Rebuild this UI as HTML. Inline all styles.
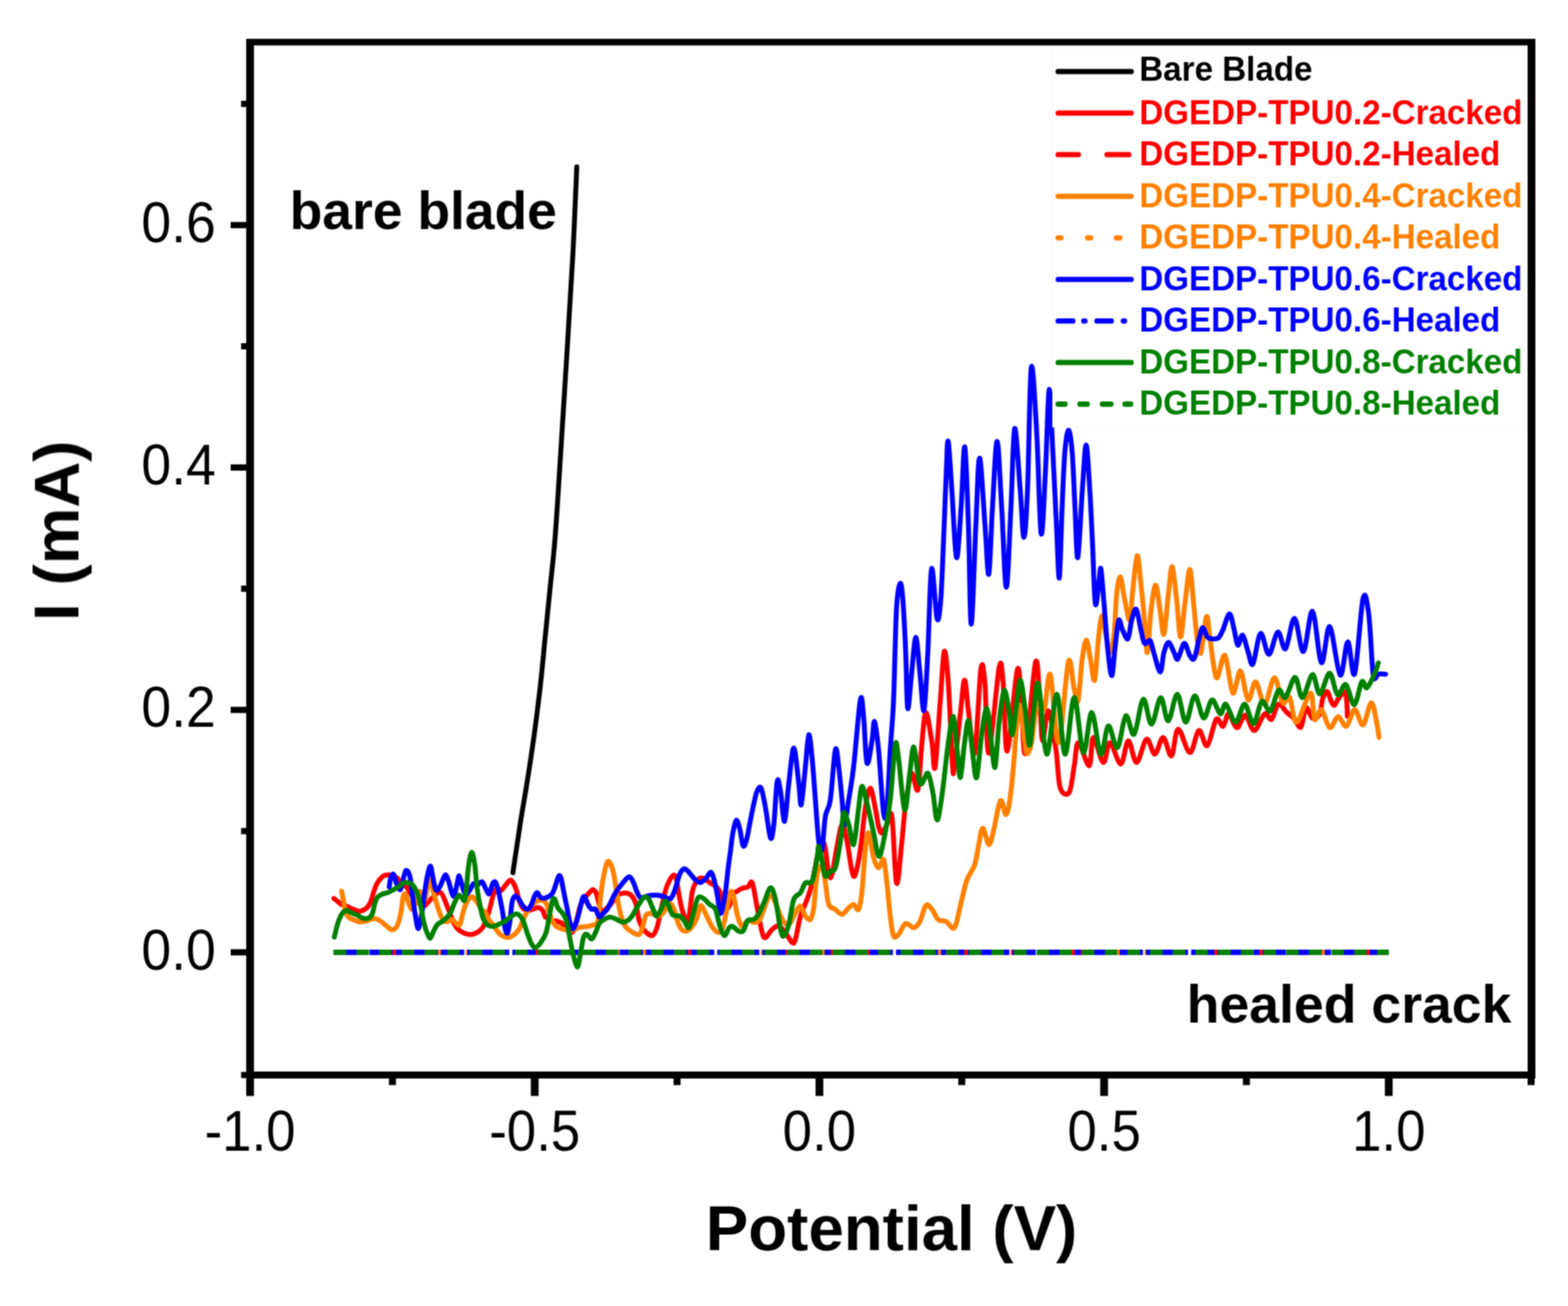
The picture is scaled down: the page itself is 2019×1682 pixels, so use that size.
<!DOCTYPE html><html><head><meta charset="utf-8"><title>I-V curves</title><style>
html,body{margin:0;padding:0;background:#fff;overflow:hidden;}
svg{display:block;}
text{font-family:"Liberation Sans",Arial,Helvetica,sans-serif;}
</style></head><body>
<svg width="2019" height="1682" viewBox="0 0 2019 1682">
<defs><filter id="soft" x="0" y="0" width="2019" height="1682" filterUnits="userSpaceOnUse" color-interpolation-filters="sRGB"><feConvolveMatrix order="3" kernelMatrix="1 2 1 2 4 2 1 2 1" divisor="16" edgeMode="duplicate"/></filter></defs>
<rect width="2019" height="1682" fill="#fff"/>
<g filter="url(#soft)">
<g fill="none" stroke-linejoin="round" stroke-linecap="round">
<path d="M742.7 215.0 C741.9 233.9 739.7 288.1 737.6 328.4 C735.5 368.7 732.7 411.5 729.9 456.8 C727.1 502.1 723.4 560.4 720.9 600.0 C718.4 639.6 716.7 668.2 714.6 694.5 C712.5 720.8 710.4 736.5 708.3 757.5 C706.2 778.5 704.1 799.5 702.0 820.5 C699.9 841.5 698.1 862.6 695.7 883.6 C693.3 904.6 690.7 925.6 687.8 946.6 C684.9 967.6 681.3 991.2 678.4 1009.6 C675.5 1028.0 673.5 1037.7 670.5 1056.8 C667.5 1075.9 662.1 1112.8 660.4 1124.0" stroke="#000" stroke-width="6.3"/>
<path d="M429.9 1157.1 C430.7 1157.8 433.1 1159.7 434.9 1161.1 C436.7 1162.5 438.8 1164.5 440.8 1165.6 C442.9 1166.7 444.9 1166.6 447.2 1167.5 C449.5 1168.4 452.2 1170.0 454.7 1171.0 C457.2 1172.0 460.1 1173.2 462.1 1173.5 C464.2 1173.8 465.4 1173.2 467.0 1172.5 C468.6 1171.8 470.3 1171.2 472.0 1169.5 C473.7 1167.8 475.5 1165.4 477.0 1162.1 C478.5 1158.8 479.7 1153.4 480.9 1149.7 C482.1 1146.0 483.0 1142.7 484.4 1139.8 C485.8 1136.9 487.6 1134.4 489.3 1132.4 C491.0 1130.4 492.2 1128.8 494.3 1127.9 C496.4 1127.0 498.9 1126.5 501.7 1126.9 C504.5 1127.3 508.4 1128.5 511.0 1130.5 C513.5 1132.5 515.0 1136.7 517.0 1138.6 C519.0 1140.5 520.6 1139.3 523.0 1142.0 C525.4 1144.7 528.5 1151.3 531.2 1154.8 C533.9 1158.3 536.8 1160.9 539.3 1162.9 C541.8 1164.9 544.5 1166.8 546.3 1166.9 C548.1 1167.0 548.6 1165.0 550.2 1163.4 C551.8 1161.8 552.9 1159.6 555.7 1157.3 C558.6 1155.0 563.9 1147.8 567.3 1149.5 C570.6 1151.2 573.1 1161.1 575.8 1167.3 C578.5 1173.5 581.3 1181.8 583.5 1186.6 C585.7 1191.4 586.7 1193.5 588.9 1195.9 C591.1 1198.4 593.6 1200.0 596.6 1201.3 C599.6 1202.6 603.5 1203.8 606.7 1203.6 C609.9 1203.3 613.4 1201.5 616.0 1199.8 C618.6 1198.1 620.3 1196.4 622.1 1193.6 C623.9 1190.8 625.2 1187.2 626.8 1182.8 C628.3 1178.4 630.0 1172.5 631.4 1167.3 C632.8 1162.1 633.9 1155.7 635.3 1151.8 C636.7 1147.9 638.3 1144.9 640.0 1144.1 C641.7 1143.2 643.8 1147.3 645.5 1146.7 C647.2 1146.1 648.6 1142.8 650.5 1140.6 C652.4 1138.4 654.9 1134.3 656.6 1133.6 C658.3 1132.9 659.2 1134.6 660.6 1136.6 C662.0 1138.6 663.4 1141.7 664.7 1145.7 C666.1 1149.7 667.4 1156.9 668.7 1160.8 C670.1 1164.7 671.1 1166.9 672.8 1168.9 C674.5 1170.9 676.6 1172.7 678.8 1173.0 C681.0 1173.3 683.5 1171.7 685.9 1171.0 C688.3 1170.3 690.8 1168.6 693.0 1168.9 C695.2 1169.2 697.5 1171.0 699.0 1173.0 C700.5 1175.0 700.8 1179.6 702.1 1181.1 C703.5 1182.6 705.6 1181.3 707.1 1182.1 C708.6 1182.9 709.7 1185.4 711.2 1186.1 C712.7 1186.8 714.2 1185.6 716.2 1186.1 C718.2 1186.6 721.1 1187.4 723.3 1189.1 C725.5 1190.8 727.4 1194.2 729.4 1196.2 C731.4 1198.2 733.7 1201.3 735.4 1201.3 C737.1 1201.3 738.1 1199.6 739.5 1196.2 C740.9 1192.8 742.2 1186.1 743.5 1181.1 C744.8 1176.0 745.8 1170.1 747.5 1165.9 C749.2 1161.7 751.6 1158.7 753.6 1155.8 C755.6 1152.9 758.0 1150.4 759.7 1148.7 C761.4 1147.0 762.4 1145.4 763.7 1145.7 C765.1 1146.0 766.4 1147.3 767.8 1150.7 C769.1 1154.1 770.6 1161.7 771.8 1165.9 C773.0 1170.1 773.4 1175.2 774.8 1176.0 C776.1 1176.8 777.8 1173.1 779.9 1171.0 C782.0 1168.9 784.9 1166.4 787.4 1163.4 C789.9 1160.4 791.9 1155.2 794.9 1153.0 C797.9 1150.8 802.3 1150.1 805.3 1150.1 C808.3 1150.1 810.5 1150.8 812.7 1153.0 C814.9 1155.2 816.9 1158.0 818.6 1163.4 C820.3 1168.9 821.4 1180.0 823.1 1185.7 C824.8 1191.4 826.3 1194.4 829.0 1197.6 C831.7 1200.8 836.7 1205.2 839.4 1205.0 C842.1 1204.8 843.7 1200.5 845.4 1196.1 C847.1 1191.6 848.3 1184.7 849.8 1178.3 C851.3 1171.9 852.8 1163.7 854.3 1157.5 C855.8 1151.3 856.8 1146.2 858.8 1141.2 C860.8 1136.2 864.2 1129.5 866.2 1127.8 C868.2 1126.1 869.4 1127.3 870.6 1130.8 C871.8 1134.3 872.4 1141.9 873.6 1148.6 C874.9 1155.3 876.4 1164.7 878.1 1170.9 C879.8 1177.1 882.5 1183.7 884.0 1185.7 C885.5 1187.7 885.8 1189.0 887.0 1182.8 C888.2 1176.6 889.9 1156.3 891.4 1148.6 C892.9 1140.9 894.2 1139.7 895.9 1136.7 C897.6 1133.7 899.8 1131.5 901.8 1130.8 C903.8 1130.0 905.8 1131.2 907.8 1132.2 C909.8 1133.2 911.5 1135.2 913.7 1136.7 C915.9 1138.2 919.0 1139.2 921.2 1141.2 C923.4 1143.2 925.4 1143.6 927.1 1148.6 C928.8 1153.5 930.1 1167.2 931.6 1170.9 C933.1 1174.6 934.5 1172.2 936.0 1170.9 C937.5 1169.7 939.3 1166.6 940.5 1163.4 C941.7 1160.2 942.2 1154.1 943.4 1151.6 C944.6 1149.1 945.9 1149.8 947.9 1148.6 C949.9 1147.3 952.8 1145.1 955.3 1144.1 C957.8 1143.1 960.6 1143.8 962.8 1142.6 C965.0 1141.4 966.6 1132.6 968.6 1137.0 C970.6 1141.4 972.9 1158.4 975.0 1169.1 C977.1 1179.8 979.6 1194.8 981.4 1201.2 C983.2 1207.6 983.6 1208.3 985.7 1207.6 C987.9 1206.9 991.4 1199.4 994.3 1196.9 C997.1 1194.4 999.9 1191.9 1002.8 1192.6 C1005.6 1193.3 1008.5 1197.6 1011.4 1201.2 C1014.3 1204.8 1017.9 1212.6 1020.0 1214.0 C1022.1 1215.4 1022.4 1215.5 1024.2 1209.8 C1026.0 1204.1 1028.2 1188.4 1030.7 1179.8 C1033.2 1171.2 1036.7 1165.5 1039.2 1158.4 C1041.7 1151.3 1043.6 1145.9 1045.7 1137.0 C1047.8 1128.1 1050.0 1113.7 1052.1 1104.8 C1054.2 1095.9 1056.7 1085.2 1058.5 1083.4 C1060.3 1081.6 1061.4 1086.9 1062.8 1094.1 C1064.2 1101.2 1065.7 1120.9 1067.1 1126.3 C1068.5 1131.7 1069.5 1132.4 1071.3 1126.3 C1073.1 1120.2 1075.6 1100.6 1077.8 1089.9 C1080.0 1079.2 1082.1 1063.1 1084.2 1062.0 C1086.3 1060.9 1088.5 1073.4 1090.6 1083.4 C1092.7 1093.4 1095.2 1114.8 1097.0 1122.0 C1098.8 1129.2 1099.5 1131.0 1101.3 1126.3 C1103.1 1121.6 1105.6 1108.4 1107.8 1094.1 C1110.0 1079.8 1112.1 1053.8 1114.2 1040.6 C1116.3 1027.4 1118.5 1014.9 1120.6 1014.9 C1122.7 1014.9 1125.2 1032.4 1127.0 1040.6 C1128.8 1048.8 1129.9 1058.8 1131.3 1064.2 C1132.7 1069.6 1133.8 1073.1 1135.6 1072.7 C1137.4 1072.3 1139.9 1065.6 1142.0 1062.0 C1144.1 1058.4 1146.3 1038.8 1148.4 1051.3 C1150.5 1063.8 1152.3 1131.2 1154.4 1137.3 C1156.5 1143.3 1159.0 1104.6 1160.9 1087.6 C1162.9 1070.6 1163.9 1050.5 1166.1 1035.3 C1168.3 1020.0 1171.4 999.1 1174.0 996.1 C1176.6 993.1 1179.6 1023.5 1181.8 1017.0 C1184.0 1010.5 1185.3 973.5 1187.1 956.9 C1188.8 940.3 1190.1 917.6 1192.3 917.6 C1194.5 917.6 1198.1 945.1 1200.1 956.9 C1202.0 968.7 1202.2 996.9 1204.0 988.2 C1205.8 979.5 1208.6 929.4 1210.6 904.6 C1212.6 879.8 1214.1 843.6 1215.8 839.2 C1217.5 834.8 1219.2 854.4 1221.0 878.4 C1222.8 902.4 1225.0 964.7 1226.3 983.0 C1227.6 1001.3 1227.2 999.1 1228.9 988.2 C1230.6 977.3 1234.5 936.3 1236.7 917.6 C1238.9 898.9 1240.2 875.8 1242.0 875.8 C1243.8 875.8 1245.0 901.9 1247.2 917.6 C1249.4 933.3 1252.4 979.0 1255.0 969.9 C1257.6 960.8 1260.7 878.0 1262.9 862.7 C1265.1 847.5 1266.4 860.5 1268.1 878.4 C1269.8 896.3 1270.2 972.9 1273.3 969.9 C1276.3 966.9 1283.4 875.4 1286.4 860.1 C1289.5 844.9 1289.8 860.5 1291.6 878.4 C1293.3 896.3 1293.9 969.9 1296.9 967.3 C1300.0 964.7 1306.9 873.2 1309.9 862.7 C1313.0 852.2 1313.5 886.7 1315.2 904.6 C1317.0 922.5 1317.4 978.6 1320.4 969.9 C1323.5 961.2 1330.3 862.1 1333.5 852.3 C1336.7 842.5 1337.8 894.3 1339.3 911.3 C1340.8 928.3 1340.7 953.4 1342.5 954.1 C1344.3 954.8 1347.2 913.8 1350.0 915.6 C1352.8 917.4 1357.1 948.4 1359.6 964.8 C1362.1 981.2 1362.2 1004.8 1365.0 1014.1 C1367.8 1023.4 1373.7 1025.1 1376.7 1020.5 C1379.7 1015.9 1381.2 997.0 1383.2 986.3 C1385.2 975.6 1385.3 956.3 1388.5 956.3 C1391.7 956.3 1399.2 987.4 1402.4 986.3 C1405.6 985.2 1404.8 950.6 1407.8 949.9 C1410.8 949.2 1417.0 980.9 1420.6 982.0 C1424.2 983.1 1425.5 955.9 1429.2 956.3 C1433.0 956.6 1439.2 984.5 1443.1 984.1 C1447.0 983.7 1449.4 954.5 1452.8 954.1 C1456.2 953.8 1459.6 982.4 1463.5 982.0 C1467.4 981.6 1472.4 953.8 1476.3 952.0 C1480.2 950.2 1483.4 971.6 1487.0 971.3 C1490.6 970.9 1494.1 949.5 1497.7 949.9 C1501.3 950.2 1505.2 975.2 1508.4 973.4 C1511.6 971.6 1513.0 939.8 1517.0 939.1 C1521.0 938.4 1527.6 969.0 1532.1 969.3 C1536.5 969.6 1540.0 942.3 1543.7 940.8 C1547.4 939.3 1550.7 962.8 1554.4 960.4 C1558.1 958.0 1562.6 930.7 1566.0 926.5 C1569.4 922.3 1572.2 936.6 1574.9 935.4 C1577.6 934.2 1579.0 919.1 1582.0 919.4 C1585.0 919.7 1589.1 936.9 1592.7 937.2 C1596.3 937.5 1599.7 920.6 1603.4 921.2 C1607.1 921.8 1610.8 941.1 1615.0 940.8 C1619.2 940.5 1624.7 921.8 1628.4 919.4 C1632.1 917.0 1634.3 928.6 1637.3 926.5 C1640.3 924.4 1642.9 908.4 1646.2 906.9 C1649.5 905.4 1653.6 914.6 1656.9 917.6 C1660.2 920.6 1663.0 921.8 1666.0 925.0 C1669.0 928.2 1672.4 938.8 1675.0 936.6 C1677.6 934.4 1679.1 913.5 1681.6 911.6 C1684.1 909.7 1687.1 923.6 1690.0 925.0 C1692.9 926.4 1696.9 924.2 1699.1 919.9 C1701.3 915.6 1701.6 904.0 1703.3 899.1 C1705.0 894.2 1707.3 890.1 1709.1 890.8 C1710.9 891.5 1712.6 900.4 1714.1 903.3 C1715.6 906.2 1716.8 908.9 1718.3 908.3 C1719.8 907.7 1721.1 902.8 1723.3 899.9 C1725.5 897.0 1729.8 890.2 1731.6 890.8 C1733.4 891.4 1733.5 898.0 1734.1 903.3 C1734.6 908.6 1734.8 919.2 1734.9 922.4" stroke="#FF0000" stroke-width="6.3"/>
<line x1="429.7" y1="1226.5" x2="1788.2" y2="1226.5" stroke="#FF0000" stroke-width="7" stroke-linecap="butt" stroke-dasharray="30 33" stroke-dashoffset="10"/>
<path d="M439.8 1147.7 C440.2 1149.7 441.6 1156.0 442.3 1159.6 C443.0 1163.2 443.2 1166.6 443.8 1169.5 C444.4 1172.4 444.8 1174.9 445.8 1177.0 C446.8 1179.1 447.8 1180.5 449.7 1181.9 C451.6 1183.3 454.6 1184.5 457.1 1185.4 C459.6 1186.3 462.1 1187.3 464.6 1187.4 C467.1 1187.5 469.1 1186.7 472.0 1185.9 C474.9 1185.2 479.0 1182.9 481.9 1182.9 C484.8 1182.9 486.8 1184.4 489.3 1185.9 C491.8 1187.4 494.3 1189.9 496.8 1191.8 C499.3 1193.7 502.0 1196.9 504.2 1197.3 C506.4 1197.7 508.5 1196.4 510.1 1194.3 C511.8 1192.2 512.9 1188.5 514.1 1184.4 C515.3 1180.3 516.3 1174.5 517.1 1169.5 C517.9 1164.5 518.2 1157.7 519.1 1154.7 C520.0 1151.8 521.2 1150.3 522.4 1151.8 C523.6 1153.2 524.9 1160.2 526.3 1163.4 C527.7 1166.6 529.3 1171.8 530.9 1171.2 C532.5 1170.6 534.5 1163.9 536.0 1160.0 C537.5 1156.1 538.5 1148.1 540.2 1148.0 C541.9 1147.9 544.8 1160.1 546.4 1159.6 C548.0 1159.1 548.7 1149.5 550.0 1145.0 C551.3 1140.5 552.6 1131.4 554.1 1132.5 C555.6 1133.6 557.2 1146.0 558.8 1151.8 C560.3 1157.6 562.0 1162.8 563.4 1167.3 C564.8 1171.8 565.9 1175.7 567.3 1178.9 C568.7 1182.1 570.2 1185.3 571.9 1186.6 C573.6 1187.9 575.6 1187.0 577.3 1186.6 C579.0 1186.2 580.1 1183.7 581.9 1184.3 C583.7 1184.9 586.3 1188.9 588.0 1190.0 C589.7 1191.1 590.7 1193.3 592.0 1191.0 C593.3 1188.7 594.7 1180.5 596.0 1176.0 C597.3 1171.5 598.2 1167.5 600.0 1164.0 C601.8 1160.5 604.7 1155.8 606.7 1155.0 C608.7 1154.2 609.8 1156.3 612.0 1159.0 C614.2 1161.7 617.8 1168.2 620.0 1171.0 C622.2 1173.8 623.6 1173.5 625.3 1176.0 C627.0 1178.5 628.6 1183.6 630.3 1186.1 C632.0 1188.6 633.7 1189.0 635.4 1191.2 C637.1 1193.4 638.5 1197.0 640.4 1199.3 C642.2 1201.6 644.1 1204.0 646.5 1205.3 C648.9 1206.6 651.9 1207.6 654.6 1207.3 C657.3 1207.0 660.4 1205.1 662.7 1203.3 C665.1 1201.5 667.0 1199.1 668.7 1196.2 C670.4 1193.3 671.3 1189.5 672.8 1186.1 C674.3 1182.7 676.5 1178.5 677.8 1176.0 C679.1 1173.5 678.6 1173.5 680.8 1171.0 C683.0 1168.5 687.6 1162.5 691.0 1160.8 C694.4 1159.1 698.6 1159.1 701.1 1160.8 C703.6 1162.5 704.4 1166.8 706.1 1171.0 C707.8 1175.2 709.5 1182.4 711.2 1186.1 C712.9 1189.8 714.2 1191.5 716.2 1193.2 C718.2 1194.9 720.8 1195.4 723.3 1196.2 C725.8 1197.0 728.7 1198.0 731.4 1198.2 C734.1 1198.4 737.0 1197.9 739.5 1197.2 C742.0 1196.5 743.6 1194.9 746.5 1194.2 C749.4 1193.5 753.7 1193.7 756.6 1193.2 C759.5 1192.7 761.5 1192.4 763.7 1191.2 C765.9 1190.0 768.1 1192.8 769.8 1186.1 C771.5 1179.3 772.4 1160.8 773.8 1150.7 C775.1 1140.6 776.5 1132.2 777.9 1125.5 C779.2 1118.8 780.5 1112.5 781.9 1110.3 C783.2 1108.1 784.6 1109.6 786.0 1112.3 C787.4 1115.0 788.9 1119.0 790.4 1126.3 C791.9 1133.6 793.4 1147.3 794.9 1156.0 C796.4 1164.7 797.6 1172.1 799.3 1178.3 C801.0 1184.5 802.8 1189.5 805.3 1193.2 C807.8 1196.9 811.2 1198.9 814.2 1200.6 C817.2 1202.3 820.9 1204.8 823.1 1203.6 C825.3 1202.4 826.0 1197.4 827.5 1193.2 C829.0 1189.0 830.0 1181.0 832.0 1178.3 C834.0 1175.6 836.9 1176.5 839.4 1176.8 C841.9 1177.0 844.4 1180.0 846.9 1179.8 C849.4 1179.5 851.8 1178.0 854.3 1175.3 C856.8 1172.6 859.5 1164.1 861.7 1163.4 C863.9 1162.7 866.0 1167.2 867.7 1170.9 C869.4 1174.6 870.4 1181.2 872.1 1185.7 C873.8 1190.2 875.6 1195.6 878.1 1197.6 C880.6 1199.6 884.0 1199.6 887.0 1197.6 C890.0 1195.6 893.7 1190.2 895.9 1185.7 C898.1 1181.2 899.2 1174.1 900.4 1170.9 C901.6 1167.7 901.8 1165.2 903.3 1166.4 C904.8 1167.6 907.1 1173.8 909.3 1178.3 C911.5 1182.8 914.2 1189.5 916.7 1193.2 C919.2 1196.9 921.9 1200.1 924.1 1200.6 C926.3 1201.1 928.1 1201.0 930.1 1196.1 C932.1 1191.1 934.3 1178.8 936.0 1170.9 C937.7 1163.0 939.0 1151.1 940.5 1148.6 C942.0 1146.1 943.4 1151.0 944.9 1156.0 C946.4 1161.0 947.7 1172.1 949.4 1178.3 C951.1 1184.5 953.1 1192.0 955.3 1193.2 C957.5 1194.4 959.2 1186.9 962.8 1185.7 C966.4 1184.5 972.2 1191.5 977.1 1186.2 C982.0 1180.9 987.1 1154.4 992.1 1154.1 C997.1 1153.8 1003.2 1178.0 1007.1 1184.1 C1011.0 1190.2 1012.9 1191.9 1015.7 1190.5 C1018.6 1189.1 1021.7 1179.4 1024.2 1175.5 C1026.7 1171.6 1028.6 1166.2 1030.7 1166.9 C1032.8 1167.6 1035.0 1176.9 1037.1 1179.8 C1039.2 1182.7 1041.7 1185.9 1043.5 1184.1 C1045.3 1182.3 1046.4 1178.7 1047.8 1169.1 C1049.2 1159.5 1050.3 1135.2 1052.1 1126.3 C1053.9 1117.4 1056.7 1113.7 1058.5 1115.5 C1060.3 1117.3 1061.4 1128.8 1062.8 1137.0 C1064.2 1145.2 1065.0 1159.1 1067.1 1164.8 C1069.2 1170.5 1072.8 1169.1 1075.6 1171.2 C1078.4 1173.3 1081.3 1177.9 1084.2 1177.6 C1087.1 1177.2 1090.3 1171.2 1092.8 1169.1 C1095.3 1167.0 1097.1 1164.4 1099.2 1164.8 C1101.3 1165.2 1103.8 1174.0 1105.6 1171.2 C1107.4 1168.4 1108.5 1160.6 1109.9 1147.7 C1111.3 1134.8 1112.8 1106.6 1114.2 1094.1 C1115.6 1081.6 1116.7 1070.9 1118.5 1072.7 C1120.3 1074.5 1122.8 1097.3 1124.9 1104.8 C1127.0 1112.3 1129.2 1117.3 1131.3 1117.7 C1133.4 1118.1 1135.9 1103.8 1137.7 1107.0 C1139.5 1110.2 1140.6 1124.9 1142.0 1137.0 C1143.4 1149.1 1144.9 1168.4 1146.3 1179.8 C1147.7 1191.2 1148.8 1201.6 1150.6 1205.5 C1152.4 1209.4 1154.4 1206.1 1157.0 1203.4 C1159.6 1200.7 1162.8 1190.9 1166.1 1189.5 C1169.4 1188.1 1173.5 1195.2 1176.6 1194.8 C1179.6 1194.4 1181.8 1191.7 1184.4 1186.9 C1187.0 1182.1 1189.7 1168.6 1192.3 1166.0 C1194.9 1163.4 1197.5 1168.2 1200.1 1171.2 C1202.7 1174.2 1205.0 1181.7 1208.0 1184.3 C1211.0 1186.9 1214.9 1185.2 1218.4 1186.9 C1221.9 1188.7 1225.9 1198.3 1228.9 1194.8 C1232.0 1191.3 1234.1 1176.0 1236.7 1166.0 C1239.3 1156.0 1241.5 1143.3 1244.6 1134.6 C1247.6 1125.9 1252.4 1121.5 1255.0 1113.7 C1257.6 1105.9 1258.5 1095.4 1260.3 1087.6 C1262.0 1079.8 1263.3 1066.7 1265.5 1066.7 C1267.7 1066.7 1271.0 1087.0 1273.3 1087.6 C1275.6 1088.1 1276.8 1079.4 1279.3 1070.0 C1281.8 1060.6 1285.5 1034.7 1288.2 1031.2 C1290.9 1027.7 1293.2 1049.6 1295.3 1049.0 C1297.4 1048.4 1298.9 1040.1 1300.7 1027.6 C1302.5 1015.1 1304.7 989.0 1306.0 974.1 C1307.3 959.2 1307.5 949.4 1308.7 938.4 C1309.9 927.4 1311.5 906.6 1313.1 908.1 C1314.7 909.6 1317.0 936.9 1318.5 947.3 C1320.0 957.7 1320.5 968.9 1322.1 970.5 C1323.7 972.1 1326.3 965.7 1328.2 956.9 C1330.1 948.1 1331.5 926.3 1333.5 917.6 C1335.5 908.9 1338.1 905.5 1340.0 904.6 C1341.9 903.7 1342.9 918.0 1345.0 912.0 C1347.1 906.0 1349.4 861.4 1352.4 868.8 C1355.4 876.2 1359.2 959.0 1363.1 956.3 C1367.0 953.6 1372.3 864.7 1375.6 852.8 C1378.9 840.9 1380.6 876.6 1382.7 884.9 C1384.8 893.2 1386.3 908.7 1388.1 902.7 C1389.9 896.8 1391.6 862.3 1393.4 849.2 C1395.2 836.1 1397.0 824.2 1398.8 824.2 C1400.6 824.2 1402.3 840.6 1404.1 849.2 C1405.9 857.8 1407.8 880.4 1409.5 876.0 C1411.2 871.6 1412.7 836.5 1414.3 822.7 C1415.9 808.9 1417.4 794.0 1419.0 793.0 C1420.6 792.0 1422.0 808.8 1423.8 816.7 C1425.6 824.6 1427.9 840.5 1429.7 840.5 C1431.5 840.5 1433.1 829.6 1434.5 816.7 C1435.9 803.8 1436.6 775.5 1438.0 763.2 C1439.4 750.9 1441.2 742.0 1442.8 743.0 C1444.4 744.0 1445.6 759.9 1447.6 769.2 C1449.6 778.5 1452.9 799.9 1454.7 798.9 C1456.5 797.9 1456.7 777.1 1458.3 763.2 C1459.9 749.3 1462.4 717.7 1464.2 715.7 C1466.0 713.7 1467.4 737.4 1469.0 751.3 C1470.6 765.2 1472.3 784.0 1473.7 798.9 C1475.1 813.8 1475.9 842.5 1477.3 840.5 C1478.7 838.5 1480.2 801.5 1482.0 787.0 C1483.8 772.5 1486.0 753.7 1488.0 753.7 C1490.0 753.7 1492.1 776.5 1493.9 787.0 C1495.7 797.5 1496.9 820.7 1498.7 816.7 C1500.5 812.7 1502.8 777.7 1504.6 763.2 C1506.4 748.7 1507.6 727.9 1509.4 729.9 C1511.2 731.9 1513.5 760.0 1515.3 775.1 C1517.1 790.2 1518.3 820.3 1520.1 820.3 C1521.9 820.3 1524.0 789.6 1526.0 775.1 C1528.0 760.6 1530.2 733.5 1532.0 733.5 C1533.8 733.5 1535.1 760.2 1536.7 775.1 C1538.3 790.0 1539.9 811.8 1541.5 822.7 C1543.1 833.6 1544.3 845.2 1546.3 840.5 C1548.3 835.8 1551.4 797.2 1553.4 794.2 C1555.4 791.2 1556.5 812.0 1558.1 822.7 C1559.7 833.4 1561.3 850.1 1562.9 858.4 C1564.5 866.7 1565.3 875.0 1567.7 872.6 C1570.1 870.2 1573.9 840.8 1577.2 844.1 C1580.5 847.4 1584.1 889.3 1587.4 892.6 C1590.7 895.9 1593.9 862.6 1597.2 864.1 C1600.5 865.6 1603.7 899.1 1607.0 901.5 C1610.3 903.9 1613.2 877.4 1616.8 878.3 C1620.4 879.2 1624.4 907.8 1628.4 906.9 C1632.4 906.0 1637.0 873.3 1640.9 873.0 C1644.8 872.7 1648.3 900.9 1651.6 905.1 C1654.9 909.3 1657.5 893.8 1660.5 898.0 C1663.5 902.2 1664.9 931.0 1669.4 930.1 C1673.9 929.2 1683.4 893.2 1687.3 892.6 C1691.2 892.0 1690.2 922.9 1692.6 926.5 C1695.0 930.1 1698.2 912.2 1701.5 914.0 C1704.8 915.8 1708.6 935.7 1712.2 937.2 C1715.8 938.7 1719.3 923.2 1722.9 922.9 C1726.5 922.6 1730.0 936.9 1733.6 935.4 C1737.2 933.9 1740.7 914.3 1744.3 914.0 C1747.9 913.7 1751.4 935.1 1755.0 933.6 C1758.6 932.1 1762.7 905.4 1765.7 905.1 C1768.7 904.8 1771.2 924.5 1772.9 931.9 C1774.6 939.3 1775.1 946.7 1775.6 949.7" stroke="#FF8000" stroke-width="6.3"/>
<line x1="429.7" y1="1226.5" x2="1788.2" y2="1226.5" stroke="#FF8000" stroke-width="7" stroke-linecap="butt" stroke-dasharray="8 30" stroke-dashoffset="20"/>
<path d="M501.2 1142.3 C501.5 1140.2 502.3 1132.6 503.2 1129.9 C504.1 1127.2 505.6 1124.8 506.7 1125.9 C507.8 1127.0 508.5 1133.1 510.0 1136.4 C511.5 1139.7 513.8 1147.0 515.5 1145.7 C517.2 1144.4 518.8 1132.8 520.1 1128.7 C521.4 1124.6 521.9 1120.9 523.2 1120.9 C524.5 1120.9 526.5 1123.6 527.8 1128.7 C529.1 1133.8 529.7 1143.4 530.9 1151.8 C532.1 1160.2 533.5 1171.6 534.8 1178.9 C536.1 1186.2 537.3 1196.6 538.7 1195.9 C540.1 1195.2 542.0 1182.3 543.3 1175.0 C544.6 1167.7 545.2 1159.5 546.4 1151.8 C547.5 1144.1 548.9 1134.8 550.2 1128.7 C551.5 1122.7 552.9 1115.5 554.1 1115.5 C555.3 1115.5 556.2 1123.9 557.2 1128.7 C558.2 1133.5 559.3 1141.1 560.3 1144.1 C561.3 1147.0 562.2 1147.1 563.4 1146.4 C564.6 1145.8 566.0 1142.8 567.3 1140.2 C568.6 1137.6 570.0 1133.2 571.1 1131.0 C572.2 1128.8 573.0 1126.2 574.2 1127.1 C575.4 1128.0 576.8 1132.5 578.1 1136.4 C579.4 1140.3 580.8 1147.5 581.9 1150.3 C583.0 1153.1 583.8 1155.7 585.0 1153.4 C586.2 1151.1 587.9 1140.7 588.9 1136.4 C589.9 1132.2 590.3 1127.7 591.2 1127.9 C592.1 1128.2 593.3 1134.6 594.3 1137.9 C595.3 1141.2 596.4 1145.7 597.4 1148.0 C598.4 1150.3 599.2 1152.1 600.5 1151.8 C601.8 1151.5 603.4 1148.3 605.0 1146.0 C606.6 1143.7 608.4 1139.0 610.0 1138.0 C611.6 1137.0 612.6 1140.6 614.4 1140.2 C616.2 1139.8 618.8 1134.9 620.6 1135.6 C622.4 1136.2 623.7 1141.5 625.2 1144.1 C626.8 1146.7 628.4 1152.1 629.9 1151.1 C631.4 1150.1 633.1 1140.3 634.5 1137.9 C635.9 1135.5 637.1 1134.5 638.4 1136.6 C639.7 1138.7 641.0 1145.0 642.4 1150.7 C643.8 1156.4 645.1 1163.4 646.5 1171.0 C647.9 1178.6 649.3 1191.2 650.5 1196.2 C651.7 1201.2 652.6 1203.0 653.6 1201.3 C654.6 1199.6 655.6 1192.8 656.6 1186.1 C657.6 1179.3 658.4 1166.2 659.6 1160.8 C660.8 1155.4 662.2 1154.1 663.7 1153.8 C665.2 1153.5 667.2 1156.8 668.7 1158.8 C670.2 1160.8 671.1 1163.9 672.8 1165.9 C674.5 1167.9 676.9 1171.0 678.8 1171.0 C680.6 1171.0 682.2 1168.9 683.9 1165.9 C685.6 1162.9 687.5 1155.5 688.9 1152.8 C690.2 1150.1 690.8 1149.2 692.0 1149.7 C693.2 1150.2 694.5 1154.6 696.0 1155.8 C697.5 1157.0 699.4 1157.0 701.1 1156.8 C702.8 1156.6 704.4 1155.8 706.1 1154.8 C707.8 1153.8 709.7 1153.1 711.2 1150.7 C712.7 1148.3 713.9 1144.3 715.2 1140.6 C716.6 1136.9 718.1 1130.2 719.3 1128.5 C720.5 1126.8 721.3 1127.6 722.3 1130.5 C723.3 1133.4 724.1 1139.8 725.3 1145.7 C726.5 1151.6 728.0 1159.2 729.4 1165.9 C730.8 1172.6 732.1 1181.0 733.4 1186.1 C734.7 1191.1 736.0 1195.7 737.4 1196.2 C738.8 1196.7 740.1 1192.5 741.5 1189.1 C742.9 1185.7 744.1 1181.0 745.5 1176.0 C746.9 1171.0 748.4 1162.3 749.6 1158.8 C750.8 1155.3 751.2 1153.6 752.6 1154.8 C754.0 1156.0 756.2 1163.2 757.7 1165.9 C759.2 1168.6 760.2 1170.2 761.7 1171.0 C763.2 1171.8 765.0 1169.3 766.7 1171.0 C768.4 1172.7 770.1 1180.3 771.8 1181.1 C773.5 1181.9 775.2 1177.7 776.9 1176.0 C778.6 1174.3 780.2 1173.5 781.9 1171.0 C783.6 1168.5 785.3 1164.2 787.0 1160.8 C788.7 1157.4 789.8 1154.2 792.0 1150.7 C794.2 1147.2 797.0 1143.2 800.0 1139.6 C803.0 1136.0 807.1 1129.8 809.7 1129.3 C812.3 1128.8 814.0 1133.5 815.7 1136.7 C817.4 1139.9 818.6 1145.4 820.1 1148.6 C821.6 1151.8 822.6 1155.0 824.6 1156.0 C826.6 1157.0 829.5 1155.0 832.0 1154.5 C834.5 1154.0 836.9 1153.2 839.4 1153.0 C841.9 1152.8 844.4 1152.8 846.9 1153.0 C849.4 1153.2 851.6 1153.8 854.3 1154.5 C857.0 1155.2 860.7 1159.0 863.2 1157.5 C865.7 1156.0 867.2 1150.8 869.2 1145.6 C871.2 1140.4 873.1 1130.8 875.1 1126.3 C877.1 1121.8 879.0 1119.4 881.0 1118.9 C883.0 1118.4 884.8 1121.1 887.0 1123.3 C889.2 1125.5 891.9 1130.0 894.4 1132.2 C896.9 1134.4 899.3 1136.9 901.8 1136.7 C904.3 1136.5 907.1 1133.0 909.3 1130.8 C911.5 1128.6 913.5 1122.8 915.2 1123.3 C916.9 1123.8 918.2 1128.2 919.7 1133.7 C921.2 1139.2 922.9 1149.1 924.1 1156.0 C925.3 1162.9 926.1 1172.8 927.1 1175.3 C928.1 1177.8 928.9 1175.9 930.1 1170.9 C931.3 1166.0 933.3 1154.3 934.5 1145.6 C935.7 1136.9 936.5 1127.1 937.5 1118.9 C938.5 1110.7 939.5 1104.0 940.5 1096.6 C941.5 1089.2 942.2 1081.0 943.4 1074.3 C944.6 1067.6 946.4 1057.7 947.9 1056.5 C949.4 1055.3 950.9 1061.5 952.4 1066.9 C953.9 1072.4 955.3 1086.7 956.8 1089.2 C958.3 1091.7 959.8 1086.7 961.3 1081.7 C962.8 1076.7 964.2 1066.8 965.7 1059.4 C967.2 1052.0 968.7 1043.8 970.2 1037.1 C971.7 1030.4 973.1 1023.0 974.7 1019.3 C976.3 1015.6 978.2 1011.4 980.0 1014.9 C981.8 1018.4 983.7 1029.9 985.7 1040.6 C987.7 1051.3 990.3 1075.5 992.1 1079.1 C993.9 1082.7 995.0 1074.1 996.4 1062.0 C997.8 1049.9 999.3 1013.4 1000.7 1006.3 C1002.1 999.2 1003.4 1010.6 1005.0 1019.2 C1006.6 1027.8 1008.5 1059.5 1010.3 1057.7 C1012.1 1055.9 1013.7 1024.2 1015.7 1008.5 C1017.7 992.8 1020.0 963.5 1022.1 963.5 C1024.2 963.5 1026.9 996.4 1028.5 1008.5 C1030.1 1020.6 1030.3 1039.9 1031.7 1036.3 C1033.1 1032.7 1035.5 1002.1 1037.1 987.1 C1038.7 972.1 1040.0 948.2 1041.4 946.4 C1042.8 944.6 1044.3 962.5 1045.7 976.4 C1047.1 990.3 1048.5 1012.1 1049.9 1029.9 C1051.3 1047.7 1052.8 1072.7 1054.2 1083.4 C1055.6 1094.1 1057.1 1099.4 1058.5 1094.1 C1059.9 1088.8 1061.0 1062.0 1062.8 1051.3 C1064.6 1040.6 1067.1 1044.2 1069.2 1029.9 C1071.3 1015.6 1073.8 972.8 1075.6 965.7 C1077.4 958.6 1078.5 976.4 1079.9 987.1 C1081.3 997.8 1083.0 1017.4 1084.2 1029.9 C1085.5 1042.4 1086.0 1062.0 1087.4 1062.0 C1088.8 1062.0 1090.8 1042.4 1092.8 1029.9 C1094.8 1017.4 1096.7 1008.5 1099.2 987.1 C1101.7 965.7 1105.7 912.1 1107.8 901.4 C1109.9 890.7 1110.6 909.2 1112.0 922.8 C1113.4 936.4 1114.5 977.4 1116.3 982.8 C1118.1 988.1 1121.1 963.8 1122.7 954.9 C1124.3 946.0 1124.6 927.5 1126.0 929.3 C1127.4 931.1 1129.3 946.1 1131.3 965.7 C1133.2 985.3 1135.9 1034.5 1137.7 1047.0 C1139.5 1059.5 1140.6 1054.1 1142.0 1040.6 C1143.4 1027.0 1144.9 988.9 1146.3 965.7 C1147.7 942.5 1149.3 931.5 1150.6 901.4 C1151.9 871.2 1152.9 809.8 1154.3 784.8 C1155.7 759.8 1157.6 753.5 1159.0 751.5 C1160.4 749.5 1161.4 758.1 1162.6 772.9 C1163.8 787.6 1165.2 816.8 1166.2 840.0 C1167.2 863.2 1167.5 908.2 1168.8 912.4 C1170.1 916.6 1172.3 880.6 1174.0 865.4 C1175.7 850.1 1177.5 820.9 1179.2 820.9 C1180.9 820.9 1182.7 849.7 1184.4 865.4 C1186.2 881.1 1188.0 919.2 1189.7 915.0 C1191.4 910.8 1193.1 870.4 1194.7 840.0 C1196.3 809.6 1197.5 739.7 1199.5 732.5 C1201.5 725.3 1204.6 790.0 1206.6 796.7 C1208.6 803.4 1209.9 789.5 1211.3 772.9 C1212.7 756.2 1213.7 724.5 1214.9 696.8 C1216.1 669.1 1217.5 627.9 1218.5 606.5 C1219.5 585.1 1219.7 564.4 1220.9 568.4 C1222.1 572.4 1223.8 605.2 1225.6 630.2 C1227.4 655.2 1229.6 714.2 1231.6 718.2 C1233.6 722.2 1235.7 677.8 1237.5 654.0 C1239.3 630.2 1240.7 571.6 1242.3 575.6 C1243.9 579.6 1245.6 639.8 1247.0 677.8 C1248.4 715.8 1249.0 803.9 1250.6 803.9 C1252.2 803.9 1254.7 713.5 1256.5 677.8 C1258.3 642.1 1259.3 589.8 1261.3 589.8 C1263.3 589.8 1266.4 652.8 1268.4 677.8 C1270.4 702.8 1271.6 743.6 1273.2 739.6 C1274.8 735.6 1276.1 682.5 1277.9 654.0 C1279.7 625.5 1281.9 568.4 1283.9 568.4 C1285.9 568.4 1287.8 622.7 1289.8 654.0 C1291.8 685.3 1293.8 756.3 1295.8 756.3 C1297.8 756.3 1299.9 688.1 1301.7 654.0 C1303.5 619.9 1304.5 555.8 1306.5 551.8 C1308.5 547.8 1311.6 606.8 1313.6 630.2 C1315.6 653.6 1316.8 692.1 1318.4 692.1 C1320.0 692.1 1321.5 666.7 1323.1 630.2 C1324.7 593.7 1325.9 485.2 1327.9 473.3 C1329.9 461.4 1332.9 523.2 1335.0 558.9 C1337.1 594.6 1338.7 679.4 1340.6 687.3 C1342.5 695.2 1344.5 637.4 1346.2 606.5 C1347.9 575.6 1349.3 505.8 1350.9 501.8 C1352.5 497.8 1354.1 553.4 1355.7 582.7 C1357.3 612.0 1359.0 650.8 1360.4 677.8 C1361.8 704.8 1362.8 748.4 1364.0 744.4 C1365.2 740.4 1366.4 681.0 1367.6 654.0 C1368.8 627.0 1369.7 599.3 1371.1 582.7 C1372.5 566.1 1374.3 554.2 1375.9 554.2 C1377.5 554.2 1379.2 566.1 1380.6 582.7 C1382.0 599.3 1383.0 631.4 1384.2 654.0 C1385.4 676.6 1386.2 722.2 1387.8 718.2 C1389.4 714.2 1391.9 654.4 1393.7 630.2 C1395.5 606.0 1396.9 573.2 1398.5 573.2 C1400.1 573.2 1401.8 608.8 1403.2 630.2 C1404.6 651.6 1405.6 677.0 1406.8 701.6 C1408.0 726.2 1409.0 769.8 1410.4 777.7 C1411.8 785.6 1413.9 756.7 1415.1 749.2 C1416.3 741.7 1416.5 728.2 1417.5 732.5 C1418.5 736.8 1420.0 758.1 1421.4 775.1 C1422.9 792.1 1424.5 818.8 1426.2 834.6 C1427.9 850.5 1429.9 870.2 1431.5 870.2 C1433.1 870.2 1434.2 846.5 1435.7 834.6 C1437.2 822.7 1438.8 802.9 1440.4 798.9 C1442.0 794.9 1443.2 806.8 1445.2 810.8 C1447.2 814.8 1450.3 824.7 1452.3 822.7 C1454.3 820.7 1455.3 805.2 1457.1 798.9 C1458.9 792.5 1461.0 782.6 1463.0 784.6 C1465.0 786.6 1467.2 803.5 1469.0 810.8 C1470.8 818.1 1471.7 826.2 1473.7 828.6 C1475.7 831.0 1478.9 823.1 1480.9 825.1 C1482.9 827.1 1483.4 833.8 1485.6 840.5 C1487.8 847.2 1491.7 865.5 1493.9 865.5 C1496.1 865.5 1496.9 846.9 1498.7 840.5 C1500.5 834.1 1502.4 827.4 1504.6 827.4 C1506.8 827.4 1509.8 836.9 1511.8 840.5 C1513.8 844.1 1514.3 850.8 1516.5 848.8 C1518.7 846.8 1522.3 829.4 1524.9 828.6 C1527.5 827.8 1529.8 840.9 1532.0 844.1 C1534.2 847.3 1535.9 851.3 1537.9 847.7 C1539.9 844.1 1542.1 829.2 1543.9 822.7 C1545.7 816.2 1546.8 808.8 1548.6 808.4 C1550.4 808.0 1552.6 817.9 1554.6 820.3 C1556.6 822.7 1558.1 822.5 1560.5 822.7 C1562.9 822.9 1566.4 823.5 1568.8 821.5 C1571.2 819.5 1572.4 815.9 1574.8 810.8 C1577.2 805.6 1580.7 790.6 1583.1 790.6 C1585.5 790.6 1587.3 804.1 1589.1 810.8 C1590.9 817.5 1592.0 829.8 1593.8 831.0 C1595.6 832.2 1597.8 816.6 1600.0 818.0 C1602.2 819.4 1604.8 832.9 1607.0 839.1 C1609.2 845.3 1610.6 859.1 1613.3 855.2 C1616.0 851.3 1619.7 818.0 1623.1 815.9 C1626.5 813.8 1630.1 843.0 1633.8 842.7 C1637.5 842.4 1641.8 815.3 1645.4 814.1 C1649.0 812.9 1651.6 838.5 1655.2 835.5 C1658.8 832.5 1663.0 795.7 1666.8 796.3 C1670.6 796.9 1674.4 840.6 1678.3 839.1 C1682.2 837.6 1686.1 785.0 1690.0 787.4 C1693.9 789.8 1697.8 850.1 1701.5 853.4 C1705.2 856.7 1708.2 804.3 1712.2 807.0 C1716.2 809.7 1721.7 866.1 1725.6 869.4 C1729.5 872.7 1732.3 826.9 1735.4 826.6 C1738.5 826.3 1741.0 876.8 1744.3 867.6 C1747.6 858.4 1752.0 784.4 1755.0 771.3 C1758.0 758.2 1760.1 774.2 1762.2 789.2 C1764.3 804.2 1766.1 847.5 1767.4 861.6 C1768.7 875.8 1768.7 873.0 1769.9 874.1 C1771.2 875.2 1772.5 869.3 1774.9 868.3 C1777.3 867.3 1782.6 868.3 1784.1 868.3" stroke="#0000FF" stroke-width="6.3"/>
<line x1="429.7" y1="1226.5" x2="1788.2" y2="1226.5" stroke="#0000FF" stroke-width="7" stroke-linecap="butt" stroke-dasharray="30 4 8 4"/>
<path d="M430.5 1207.0 C431.2 1204.0 433.5 1193.9 434.9 1189.3 C436.3 1184.7 437.6 1181.9 438.8 1179.4 C440.0 1176.9 441.1 1175.7 442.3 1174.5 C443.6 1173.3 444.7 1172.3 446.3 1172.5 C447.9 1172.7 450.0 1174.5 452.2 1175.5 C454.4 1176.5 457.1 1177.2 459.6 1178.4 C462.1 1179.6 464.5 1181.7 467.0 1182.4 C469.5 1183.1 472.4 1183.3 474.5 1182.4 C476.6 1181.5 478.1 1180.0 479.4 1177.0 C480.7 1174.0 481.3 1168.1 482.4 1164.6 C483.5 1161.0 484.3 1157.8 485.9 1155.7 C487.5 1153.6 489.6 1152.7 491.8 1151.7 C494.0 1150.7 496.7 1150.7 499.2 1149.7 C501.7 1148.7 504.2 1147.2 506.7 1145.8 C509.2 1144.4 512.0 1142.7 514.1 1141.3 C516.2 1139.9 517.8 1138.0 519.3 1137.2 C520.8 1136.4 521.3 1136.0 523.2 1136.4 C525.1 1136.8 528.7 1137.6 530.9 1139.5 C533.1 1141.4 534.8 1144.7 536.3 1148.0 C537.8 1151.3 539.0 1155.1 540.2 1159.6 C541.4 1164.1 542.3 1169.8 543.3 1175.0 C544.3 1180.2 545.2 1186.0 546.4 1190.5 C547.5 1195.0 548.9 1199.1 550.2 1202.1 C551.5 1205.1 552.7 1208.9 554.1 1208.3 C555.5 1207.7 557.2 1201.2 558.8 1198.2 C560.3 1195.2 561.6 1192.4 563.4 1190.5 C565.2 1188.6 567.5 1188.1 569.6 1186.6 C571.7 1185.0 574.0 1183.1 575.8 1181.2 C577.6 1179.3 578.9 1178.0 580.4 1175.0 C581.9 1172.0 583.3 1167.0 585.0 1163.4 C586.7 1159.8 588.9 1154.7 590.4 1153.4 C591.9 1152.1 593.0 1154.7 594.3 1155.7 C595.6 1156.7 597.2 1161.5 598.2 1159.6 C599.2 1157.7 599.6 1151.8 600.5 1144.1 C601.4 1136.4 602.4 1120.9 603.6 1113.2 C604.8 1105.5 606.2 1097.7 607.5 1097.7 C608.8 1097.7 610.1 1105.5 611.3 1113.2 C612.4 1120.9 613.2 1135.1 614.4 1144.1 C615.6 1153.1 617.0 1160.8 618.3 1167.3 C619.6 1173.8 620.7 1178.9 622.1 1182.8 C623.5 1186.7 625.2 1188.8 626.8 1190.5 C628.3 1192.2 629.8 1192.4 631.4 1192.8 C633.0 1193.2 634.6 1193.1 636.1 1192.8 C637.6 1192.5 638.0 1192.3 640.4 1191.2 C642.8 1190.1 647.5 1188.0 650.5 1186.1 C653.5 1184.2 656.1 1181.5 658.6 1180.0 C661.1 1178.5 663.3 1176.3 665.7 1177.0 C668.1 1177.7 670.6 1180.0 672.8 1184.1 C675.0 1188.1 676.9 1196.2 678.8 1201.3 C680.6 1206.3 682.2 1211.2 683.9 1214.4 C685.6 1217.6 686.9 1220.5 688.9 1220.5 C690.9 1220.5 693.6 1217.6 696.0 1214.4 C698.4 1211.2 701.2 1206.8 703.1 1201.3 C705.0 1195.8 705.8 1187.8 707.1 1181.1 C708.5 1174.3 710.0 1164.7 711.2 1160.8 C712.4 1156.9 713.0 1156.4 714.2 1157.8 C715.4 1159.2 716.5 1165.9 718.2 1168.9 C719.9 1171.9 722.4 1173.1 724.3 1176.0 C726.2 1178.9 727.9 1181.0 729.4 1186.1 C730.9 1191.1 732.1 1199.6 733.4 1206.3 C734.7 1213.0 736.0 1220.6 737.4 1226.5 C738.8 1232.4 740.3 1238.8 741.5 1241.7 C742.7 1244.6 743.3 1247.1 744.5 1243.7 C745.7 1240.3 747.4 1227.7 748.6 1221.5 C749.8 1215.3 750.4 1209.3 751.6 1206.3 C752.8 1203.3 753.9 1202.8 755.6 1203.3 C757.3 1203.8 759.9 1209.7 761.7 1209.4 C763.6 1209.1 765.0 1204.7 766.7 1201.3 C768.4 1197.9 769.9 1192.0 771.8 1189.1 C773.7 1186.2 775.7 1185.4 777.9 1184.1 C780.1 1182.8 782.5 1181.3 784.9 1181.1 C787.2 1180.9 789.5 1182.1 792.0 1183.1 C794.5 1184.1 797.8 1186.4 800.0 1187.1 C802.2 1187.8 803.2 1188.2 805.3 1187.2 C807.4 1186.2 810.0 1184.8 812.7 1181.3 C815.4 1177.8 818.9 1170.6 821.6 1166.4 C824.3 1162.2 826.8 1157.5 829.0 1156.0 C831.2 1154.5 833.0 1155.0 835.0 1157.5 C837.0 1160.0 839.2 1167.2 840.9 1170.9 C842.6 1174.6 843.7 1179.8 845.4 1179.8 C847.1 1179.8 849.6 1174.1 851.3 1170.9 C853.0 1167.7 854.3 1161.5 855.8 1160.5 C857.3 1159.5 858.5 1161.9 860.2 1164.9 C861.9 1167.9 863.7 1175.8 866.2 1178.3 C868.7 1180.8 872.6 1178.6 875.1 1179.8 C877.6 1181.0 879.0 1183.2 881.0 1185.7 C883.0 1188.2 885.0 1196.4 887.0 1194.7 C889.0 1193.0 890.9 1181.8 892.9 1175.3 C894.9 1168.8 896.7 1159.0 898.9 1156.0 C901.1 1153.0 903.8 1156.0 906.3 1157.5 C908.8 1159.0 911.2 1162.7 913.7 1164.9 C916.2 1167.1 919.0 1166.2 921.2 1170.9 C923.4 1175.6 925.1 1187.5 927.1 1193.2 C929.1 1198.9 931.0 1204.8 933.0 1205.0 C935.0 1205.2 937.3 1196.7 939.0 1194.7 C940.7 1192.7 941.4 1192.5 943.4 1193.2 C945.4 1193.9 948.7 1198.1 950.9 1199.1 C953.1 1200.1 954.8 1201.3 956.8 1199.1 C958.8 1196.9 960.6 1188.2 962.8 1185.7 C965.0 1183.2 968.0 1185.4 970.2 1184.2 C972.4 1183.0 973.9 1181.9 976.1 1178.3 C978.3 1174.7 980.9 1168.5 983.6 1162.7 C986.3 1156.9 989.6 1144.1 992.1 1143.4 C994.6 1142.7 996.4 1149.5 998.5 1158.4 C1000.6 1167.3 1003.2 1189.1 1005.0 1196.9 C1006.8 1204.8 1007.5 1206.6 1009.3 1205.5 C1011.1 1204.4 1013.6 1198.3 1015.7 1190.5 C1017.8 1182.7 1019.6 1165.2 1022.1 1158.4 C1024.6 1151.6 1028.2 1153.4 1030.7 1149.8 C1033.2 1146.2 1034.6 1139.5 1037.1 1137.0 C1039.6 1134.5 1043.2 1140.2 1045.7 1134.8 C1048.2 1129.4 1050.7 1112.3 1052.1 1104.8 C1053.5 1097.3 1053.1 1089.2 1054.2 1089.9 C1055.3 1090.6 1057.1 1102.7 1058.5 1109.1 C1059.9 1115.5 1061.0 1126.2 1062.8 1128.4 C1064.6 1130.6 1067.1 1123.8 1069.2 1122.0 C1071.3 1120.2 1073.4 1124.1 1075.6 1117.7 C1077.8 1111.3 1080.3 1095.2 1082.1 1083.4 C1083.9 1071.6 1084.5 1050.6 1086.3 1047.0 C1088.1 1043.4 1090.6 1055.2 1092.8 1062.0 C1095.0 1068.8 1097.1 1091.3 1099.2 1087.7 C1101.3 1084.1 1103.8 1053.1 1105.6 1040.6 C1107.4 1028.1 1108.1 1013.9 1109.9 1012.8 C1111.7 1011.7 1113.8 1024.2 1116.3 1034.2 C1118.8 1044.2 1122.4 1061.3 1124.9 1072.7 C1127.4 1084.1 1129.2 1100.9 1131.3 1102.7 C1133.4 1104.5 1135.2 1095.5 1137.7 1083.4 C1140.2 1071.3 1143.8 1050.6 1146.3 1029.9 C1148.8 1009.2 1150.9 968.1 1152.7 959.2 C1154.5 950.3 1155.0 962.4 1157.0 976.4 C1159.0 990.4 1162.4 1039.8 1164.8 1043.1 C1167.2 1046.4 1169.4 1009.6 1171.4 996.1 C1173.4 982.6 1174.6 960.8 1176.6 962.1 C1178.5 963.4 1181.3 996.0 1183.1 1003.9 C1184.8 1011.8 1185.1 1010.5 1187.1 1009.2 C1189.1 1007.9 1192.5 993.9 1194.9 996.1 C1197.3 998.3 1199.4 1012.2 1201.4 1022.2 C1203.4 1032.2 1204.7 1056.2 1206.7 1056.2 C1208.7 1056.2 1210.8 1038.8 1213.2 1022.2 C1215.6 1005.7 1218.6 973.5 1221.0 956.9 C1223.4 940.3 1225.6 920.7 1227.6 922.9 C1229.6 925.1 1231.3 956.8 1232.8 969.9 C1234.3 983.0 1235.2 1003.5 1236.7 1001.3 C1238.2 999.1 1240.2 969.1 1242.0 956.9 C1243.8 944.7 1245.5 925.9 1247.2 928.1 C1248.9 930.3 1250.7 957.7 1252.4 969.9 C1254.1 982.1 1255.6 1005.6 1257.6 1001.3 C1259.6 996.9 1262.0 958.6 1264.2 943.8 C1266.4 929.0 1268.8 911.1 1270.7 912.4 C1272.7 913.7 1274.2 939.0 1275.9 951.6 C1277.7 964.2 1279.5 991.7 1281.2 988.2 C1283.0 984.7 1284.5 947.2 1286.4 930.7 C1288.4 914.2 1290.7 891.1 1292.9 888.9 C1295.1 886.7 1297.8 908.0 1299.5 917.6 C1301.2 927.2 1301.9 947.7 1303.4 946.4 C1304.9 945.1 1306.8 921.6 1308.6 909.8 C1310.3 898.0 1311.9 874.5 1313.9 875.8 C1315.9 877.1 1318.5 903.6 1320.4 917.6 C1322.4 931.6 1323.9 960.0 1325.6 960.0 C1327.3 960.0 1328.9 930.7 1330.8 917.6 C1332.7 904.5 1334.4 872.2 1337.2 881.2 C1340.0 890.2 1343.9 969.1 1347.8 971.3 C1351.7 973.5 1356.8 894.2 1360.7 894.2 C1364.6 894.2 1367.7 970.6 1371.4 971.3 C1375.2 972.0 1379.3 898.9 1383.2 898.5 C1387.1 898.1 1391.2 965.9 1394.9 969.1 C1398.7 972.3 1402.0 917.3 1405.7 917.7 C1409.5 918.1 1413.8 968.4 1417.4 971.3 C1421.0 974.2 1423.5 936.3 1427.1 934.9 C1430.7 933.5 1435.0 964.9 1438.8 962.7 C1442.5 960.6 1446.0 924.9 1449.6 922.0 C1453.2 919.1 1456.6 949.2 1460.3 945.6 C1464.0 942.0 1468.3 902.8 1472.0 900.6 C1475.7 898.5 1479.0 933.1 1482.7 932.7 C1486.5 932.4 1490.9 899.2 1494.5 898.5 C1498.1 897.8 1500.6 929.1 1504.2 928.4 C1507.8 927.7 1512.1 893.9 1515.9 894.2 C1519.7 894.5 1523.1 929.8 1526.8 930.1 C1530.5 930.4 1534.4 897.1 1538.3 896.2 C1542.2 895.3 1546.2 923.8 1549.9 924.7 C1553.6 925.6 1557.0 902.4 1560.6 901.5 C1564.2 900.6 1568.3 918.5 1571.3 919.4 C1574.3 920.3 1575.2 905.1 1578.5 906.9 C1581.8 908.7 1587.0 930.1 1591.0 930.1 C1595.0 930.1 1598.8 906.6 1602.6 906.9 C1606.4 907.2 1610.4 932.5 1614.1 931.9 C1617.8 931.3 1621.2 906.0 1624.8 903.3 C1628.4 900.6 1631.9 918.2 1635.5 915.8 C1639.1 913.4 1642.9 892.0 1646.2 889.0 C1649.5 886.0 1651.6 900.8 1655.2 898.0 C1658.8 895.2 1664.0 872.4 1667.6 872.5 C1671.2 872.6 1673.3 899.1 1677.0 898.5 C1680.7 897.9 1686.3 869.6 1690.0 868.8 C1693.7 868.0 1695.7 894.0 1699.4 893.7 C1703.1 893.4 1708.2 866.9 1712.0 867.0 C1715.8 867.1 1718.7 892.1 1722.2 894.6 C1725.7 897.1 1729.4 879.5 1733.0 881.7 C1736.6 883.9 1740.4 908.2 1743.8 907.6 C1747.2 907.0 1750.8 881.6 1753.5 878.0 C1756.2 874.4 1757.4 887.2 1760.0 885.8 C1762.6 884.4 1766.8 874.7 1769.3 869.4 C1771.8 864.1 1773.9 856.4 1774.8 853.8" stroke="#008000" stroke-width="6.3"/>
<line x1="429.7" y1="1226.5" x2="1788.2" y2="1226.5" stroke="#008000" stroke-width="7" stroke-linecap="butt" stroke-dasharray="16 13.2"/>
</g>
<rect x="1355.5" y="62" width="609" height="488" fill="#fff" stroke="#f7f7f7" stroke-width="1"/>
<line x1="1362.5" y1="92.2" x2="1456.5" y2="92.2" stroke="#000" stroke-width="6.8" stroke-linecap="round"/>
<text transform="translate(1467 104.0) scale(1 1.03)" font-size="42.7" font-weight="bold" fill="#000">Bare Blade</text>
<line x1="1362.5" y1="145.7" x2="1456.5" y2="145.7" stroke="#FF0000" stroke-width="6.8" stroke-linecap="round"/>
<text transform="translate(1467 159.6) scale(1 1.03)" font-size="42.7" font-weight="bold" fill="#FF0000">DGEDP-TPU0.2-Cracked</text>
<path d="M1362.5 199.2H1388.5M1425.5 199.2H1453.5" stroke="#FF0000" stroke-width="6.8" stroke-linecap="round"/>
<text transform="translate(1467 213.1) scale(1 1.03)" font-size="42.7" font-weight="bold" fill="#FF0000">DGEDP-TPU0.2-Healed</text>
<line x1="1362.5" y1="252.8" x2="1456.5" y2="252.8" stroke="#FF8000" stroke-width="6.8" stroke-linecap="round"/>
<text transform="translate(1467 266.7) scale(1 1.03)" font-size="42.7" font-weight="bold" fill="#FF8000">DGEDP-TPU0.4-Cracked</text>
<path d="M1362.5 306.3H1366M1400.5 306.3H1404.5M1437.5 306.3H1442" stroke="#FF8000" stroke-width="6.8" stroke-linecap="round"/>
<text transform="translate(1467 320.2) scale(1 1.03)" font-size="42.7" font-weight="bold" fill="#FF8000">DGEDP-TPU0.4-Healed</text>
<line x1="1362.5" y1="359.9" x2="1456.5" y2="359.9" stroke="#0000FF" stroke-width="6.8" stroke-linecap="round"/>
<text transform="translate(1467 373.8) scale(1 1.03)" font-size="42.7" font-weight="bold" fill="#0000FF">DGEDP-TPU0.6-Cracked</text>
<path d="M1362.5 413.4H1381.5M1395.5 413.4H1397M1412.5 413.4H1431M1446.5 413.4H1448" stroke="#0000FF" stroke-width="6.8" stroke-linecap="round"/>
<text transform="translate(1467 427.3) scale(1 1.03)" font-size="42.7" font-weight="bold" fill="#0000FF">DGEDP-TPU0.6-Healed</text>
<line x1="1362.5" y1="466.9" x2="1456.5" y2="466.9" stroke="#008000" stroke-width="6.8" stroke-linecap="round"/>
<text transform="translate(1467 480.8) scale(1 1.03)" font-size="42.7" font-weight="bold" fill="#008000">DGEDP-TPU0.8-Cracked</text>
<path d="M1362.5 520.5H1371.5M1390.5 520.5H1400M1419.5 520.5H1430.5M1448.5 520.5H1456" stroke="#008000" stroke-width="6.8" stroke-linecap="round"/>
<text transform="translate(1467 534.4) scale(1 1.03)" font-size="42.7" font-weight="bold" fill="#008000">DGEDP-TPU0.8-Healed</text>
<g fill="#000">
<rect x="317" y="50" width="1660" height="8.5"/>
<rect x="317" y="1380" width="1660" height="9"/>
<rect x="317" y="50" width="10" height="1339"/>
<rect x="1967" y="50" width="10" height="1339"/>
<rect x="297" y="1222.5" width="22" height="8"/>
<rect x="297" y="910.3" width="22" height="8"/>
<rect x="297" y="598.1" width="22" height="8"/>
<rect x="297" y="285.9" width="22" height="8"/>
<rect x="310.5" y="1380.5" width="9" height="8"/>
<rect x="310.5" y="1066.4" width="9" height="8"/>
<rect x="310.5" y="754.2" width="9" height="8"/>
<rect x="310.5" y="442.0" width="9" height="8"/>
<rect x="310.5" y="129.8" width="9" height="8"/>
<rect x="317.0" y="1385" width="10" height="26.5"/>
<rect x="683.5" y="1385" width="10" height="26.5"/>
<rect x="1050.1" y="1385" width="10" height="26.5"/>
<rect x="1416.7" y="1385" width="10" height="26.5"/>
<rect x="1783.2" y="1385" width="10" height="26.5"/>
<rect x="500.8" y="1385" width="9" height="12.5"/>
<rect x="867.3" y="1385" width="9" height="12.5"/>
<rect x="1233.9" y="1385" width="9" height="12.5"/>
<rect x="1600.4" y="1385" width="9" height="12.5"/>
<rect x="1967.0" y="1385" width="9" height="12.5"/>
</g>
<g font-size="69" fill="#000">
<text transform="translate(278 1248.5) scale(1 1.065)" text-anchor="end">0.0</text>
<text transform="translate(278 936.3) scale(1 1.065)" text-anchor="end">0.2</text>
<text transform="translate(278 624.1) scale(1 1.065)" text-anchor="end">0.4</text>
<text transform="translate(278 311.9) scale(1 1.065)" text-anchor="end">0.6</text>
<text transform="translate(322.0 1482) scale(0.985 1.065)" text-anchor="middle">-1.0</text>
<text transform="translate(688.5 1482) scale(0.985 1.065)" text-anchor="middle">-0.5</text>
<text transform="translate(1055.1 1482) scale(0.985 1.065)" text-anchor="middle">0.0</text>
<text transform="translate(1421.7 1482) scale(0.985 1.065)" text-anchor="middle">0.5</text>
<text transform="translate(1788.2 1482) scale(0.985 1.065)" text-anchor="middle">1.0</text>
</g>
<text x="1148" y="1609.5" font-size="82" font-weight="bold" text-anchor="middle">Potential (V)</text>
<text transform="translate(101,683.5) rotate(-90)" x="0" y="0" font-size="82" font-weight="bold" text-anchor="middle">I (mA)</text>
<text x="373" y="294.6" font-size="68.8" font-weight="bold">bare blade</text>
<text x="1528" y="1316.6" font-size="69" font-weight="bold">healed crack</text>
</g>
</svg></body></html>
